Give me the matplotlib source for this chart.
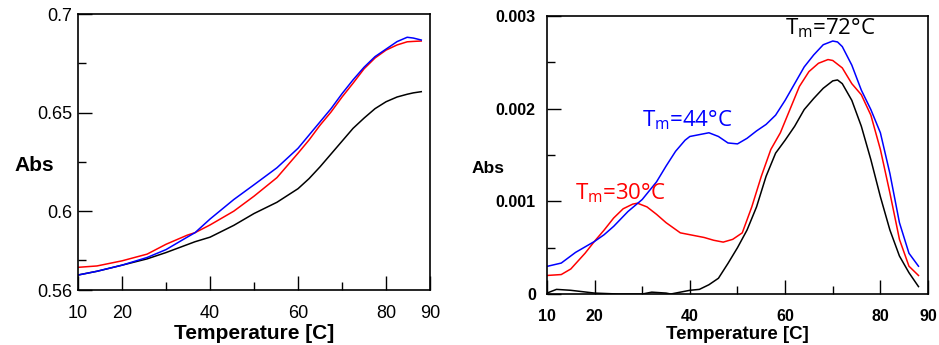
import matplotlib
matplotlib.use("Agg")
import matplotlib.pyplot as plt
from matplotlib.ticker import FixedLocator

plt.rcParams['font.family'] = ['Liberation Sans', 'DejaVu Sans']

# ---- Absorbance vs temperature (melting curves) ----
abs_temp = [10, 14.3, 20, 25.7, 30, 34.8, 36.6, 40, 45.4, 50, 55.2, 60, 62.5, 65, 67.5, 70, 72.5,
            75, 77.5, 80, 82.5, 84.8, 86.2, 88]
abs_black = [0.5676, 0.5695, 0.5726, 0.5758, 0.5790, 0.5830, 0.5845, 0.5868, 0.5928, 0.5988, 0.6045,
             0.6114, 0.6165, 0.6225, 0.6290, 0.6355, 0.6420, 0.6472, 0.6520, 0.6555, 0.6579, 0.6593,
             0.6600, 0.6606]
abs_blue = [0.5676, 0.5695, 0.5726, 0.5765, 0.5805, 0.5868, 0.5891, 0.5960, 0.6059, 0.6134, 0.6220,
            0.6319, 0.6386, 0.6453, 0.6520, 0.6596, 0.6666, 0.6730, 0.6784, 0.6822, 0.6860, 0.6882,
            0.6878, 0.6868]
abs_red = [0.5715, 0.5722, 0.5748, 0.5782, 0.5832, 0.5878, 0.5891, 0.5930, 0.6000, 0.6076, 0.6170,
           0.6294, 0.6361, 0.6436, 0.6503, 0.6579, 0.6649, 0.6722, 0.6777, 0.6817, 0.6843, 0.6859,
           0.6861, 0.6863]

# ---- First derivative curves ----
d_temp = [10, 13, 16, 20, 22, 24, 27, 30, 33, 35, 37, 39, 40, 42, 44, 46, 48, 50, 52, 54, 56, 58,
          60, 62, 64, 66, 68, 70, 71, 72, 74, 76, 78, 80, 82, 84, 86, 88]
d_blue = [0.000298, 0.000334, 0.000449, 0.000568, 0.00064, 0.00073, 0.00089, 0.00102, 0.00121, 0.00138,
          0.00154, 0.00166, 0.00170, 0.00172, 0.00174, 0.00170, 0.00163, 0.00162, 0.00168, 0.00176,
          0.00183, 0.00193, 0.00209, 0.00227, 0.00245, 0.00258, 0.00269, 0.00273, 0.00272, 0.00267,
          0.00247, 0.00220, 0.00199, 0.00174, 0.00130, 0.00077, 0.00044, 0.00030]
d_red_temp = [10, 13, 15, 18, 20, 22, 24, 26, 28, 29, 31, 33, 35, 38, 40, 43, 45, 47, 49, 51, 53, 55,
              57, 59, 61, 63, 65, 67, 69, 70, 72, 74, 76, 78, 80, 82, 84, 86, 88]
d_red = [0.00020, 0.00021, 0.00027, 0.00044, 0.00057, 0.00069, 0.00082, 0.00092, 0.00097, 0.00098,
         0.00094, 0.00086, 0.00077, 0.00066, 0.00064, 0.00061, 0.00058, 0.00056, 0.00059, 0.00066,
         0.00094, 0.00127, 0.00156, 0.00174, 0.00199, 0.00224, 0.00240, 0.00249, 0.00253, 0.00252,
         0.00244, 0.00227, 0.00215, 0.00193, 0.00156, 0.00109, 0.00059, 0.00030, 0.00020]
d_black_temp = [10, 12, 15, 20, 25, 30, 32, 35, 36, 40, 42, 44, 46, 48, 50, 52, 54, 56, 58, 60, 62,
                64, 66, 68, 70, 71, 72, 74, 76, 78, 80, 82, 84, 86, 88]
d_black = [0.00001, 0.00005, 0.00004, 0.00001, 0.0, 0.0, 0.00002, 0.00001, 0.0, 0.00004, 0.00005,
           0.00010, 0.00017, 0.00033, 0.00050, 0.00069, 0.00094, 0.00127, 0.00152, 0.00166, 0.00181,
           0.00199, 0.00211, 0.00222, 0.00230, 0.00231, 0.00227, 0.00209, 0.00181, 0.00145, 0.00105,
           0.00069, 0.00041, 0.00023, 0.00008]

tm_labels = [("72", 60.0, 0.00280, "black"),
             ("44", 29.9, 0.00181, "blue"),
             ("30", 15.9, 0.00102, "red")]

fig = plt.figure(figsize=(9.39, 3.45), dpi=100)
ax1 = fig.add_axes([0.0831, 0.1594, 0.3749, 0.8])
ax2 = fig.add_axes([0.5825, 0.1478, 0.4058, 0.8058])

lw = 1.1
ax1.plot(abs_temp, abs_black, color='black', lw=lw)
ax1.plot(abs_temp, abs_red, color='red', lw=lw)
ax1.plot(abs_temp, abs_blue, color='blue', lw=lw)

ax2.plot(d_black_temp, d_black, color='black', lw=lw)
ax2.plot(d_red_temp, d_red, color='red', lw=lw)
ax2.plot(d_temp, d_blue, color='blue', lw=lw)

for ax in (ax1, ax2):
    ax.set_xlim(10, 90)
    for s in ax.spines.values():
        s.set_linewidth(1.2)
    ax.tick_params(which='both', direction='in', width=1.0, top=False, right=False)
    ax.tick_params(which='major', length=10)
    ax.tick_params(which='minor', length=6)
    ax.xaxis.set_major_locator(FixedLocator([10, 20, 40, 60, 80, 90]))
    ax.xaxis.set_minor_locator(FixedLocator([30, 50, 70]))

ax1.set_ylim(0.56, 0.7)
ax1.yaxis.set_major_locator(FixedLocator([0.56, 0.6, 0.65, 0.7]))
ax1.yaxis.set_minor_locator(FixedLocator([0.575, 0.625, 0.675]))
ax1.set_yticklabels(['0.56', '0.6', '0.65', '0.7'])
ax1.tick_params(axis='both', which='major', labelsize=13)
ax1.tick_params(axis='y', which='major', pad=4)
ax1.tick_params(axis='x', which='major', pad=10.5)
ax1.set_xlabel('Temperature [C]', fontsize=15, fontweight='bold', labelpad=2)
ax1.set_ylabel('Abs', fontsize=15, fontweight='bold', rotation=0, va='center', ha='left')
ax1.yaxis.set_label_coords(-0.18, 0.45)

ax2.set_ylim(0, 0.003)
ax2.yaxis.set_major_locator(FixedLocator([0, 0.001, 0.002, 0.003]))
ax2.yaxis.set_minor_locator(FixedLocator([0.0005, 0.0015, 0.0025]))
ax2.set_yticklabels(['0', '0.001', '0.002', '0.003'])
ax2.tick_params(axis='both', which='major', labelsize=11.5)
ax2.tick_params(axis='y', which='major', pad=8)
ax2.tick_params(axis='x', which='major', pad=11)
for lab in ax2.get_xticklabels() + ax2.get_yticklabels():
    lab.set_fontweight('bold')
ax2.set_xlabel('Temperature [C]', fontsize=13.5, fontweight='bold', labelpad=1.5)
ax2.set_ylabel('Abs', fontsize=12.5, fontweight='bold', rotation=0, va='center', ha='left')
ax2.yaxis.set_label_coords(-0.197, 0.453)

for val, tx, ty, col in tm_labels:
    ax2.text(tx, ty, 'T$_\\mathregular{m}$=' + val + '°C', color=col, fontsize=16,
             family=['Open Sans', 'DejaVu Sans'], ha='left', va='baseline')

fig.savefig('out.png', dpi=100)
